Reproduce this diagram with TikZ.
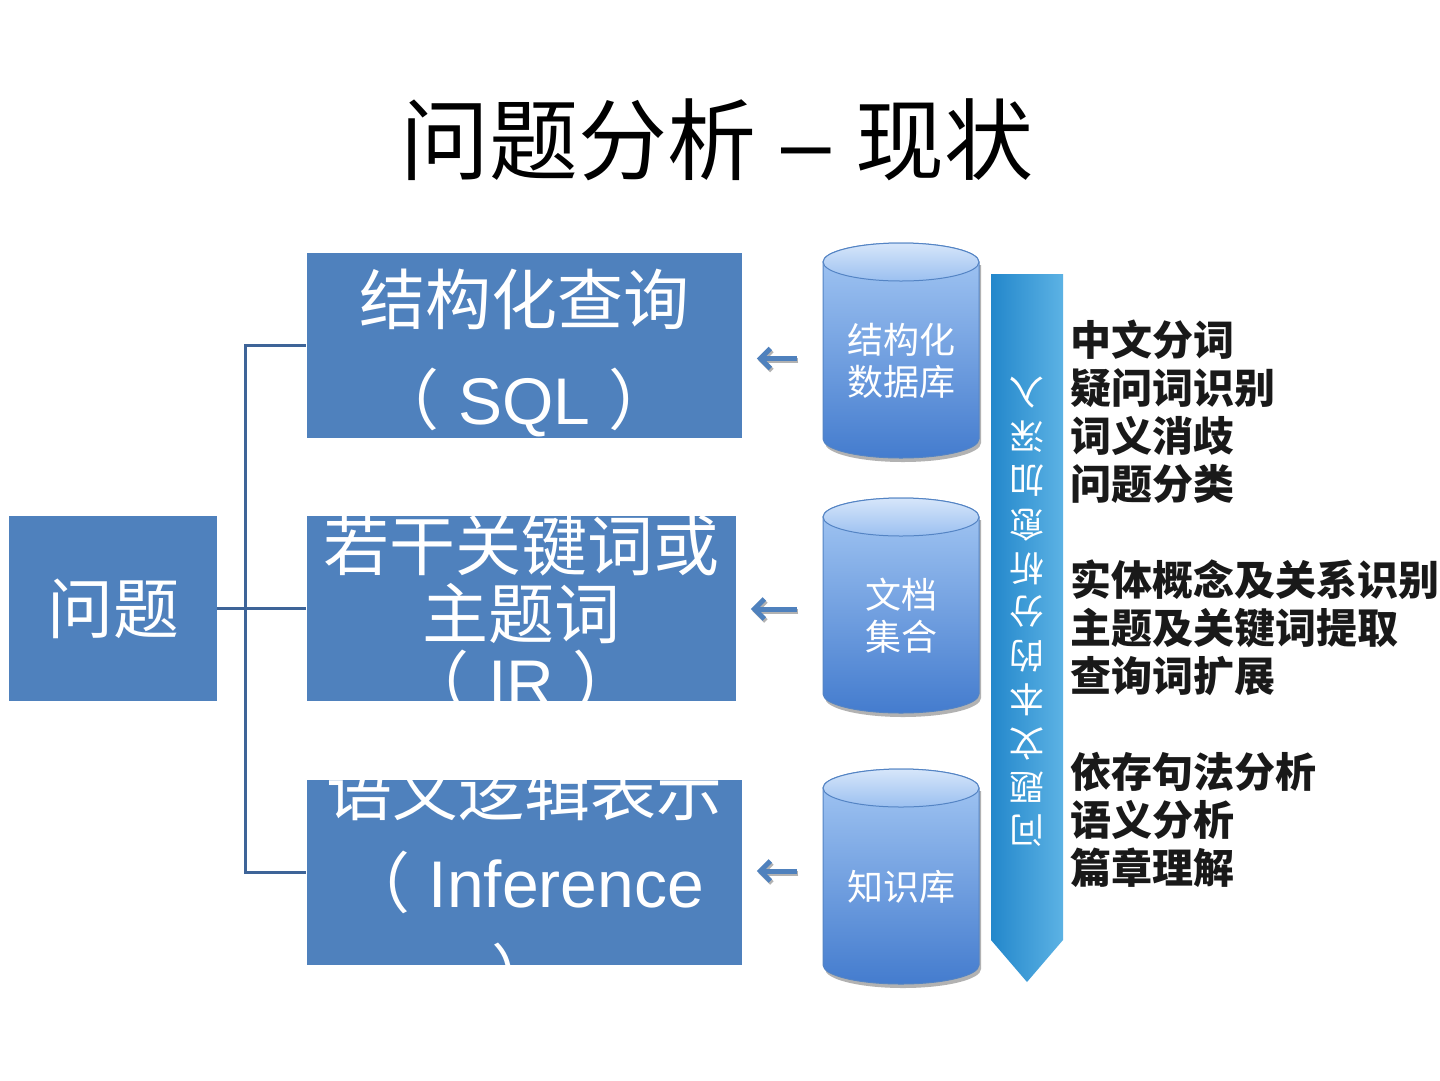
\documentclass[tikz,border=0pt]{standalone}
\usepackage{fontspec}
\setmainfont{Liberation Sans}
\newfontfamily\cjk{Noto Sans CJK SC}
\usepackage{tikz}
\usetikzlibrary{arrows.meta, positioning, calc}
\definecolor{qblue}{RGB}{79,129,189}
\definecolor{qdark}{RGB}{62,100,152}
\definecolor{qcyltop}{RGB}{165,200,244}
\definecolor{qcylbot}{RGB}{68,124,206}
\definecolor{qcyledge}{RGB}{84,132,196}
\definecolor{qarrl}{RGB}{35,135,203}
\definecolor{qarrr}{RGB}{92,178,228}

\begin{document}
\begin{tikzpicture}[
  x=1pt,y=-1pt,
  blk/.style={fill=qblue,inner sep=0pt,minimum height=185pt},
  blktxt/.style={text=white,align=center,inner sep=0pt,
                 font=\fontsize{66}{#1}\selectfont},
  dbbox/.style={inner sep=0pt,minimum width=156pt,minimum height=215pt},
  dbtxt/.style={text=white,align=center,inner sep=0pt,
                font=\cjk\fontsize{36}{42}\selectfont},
  cylbody/.style={top color=qcyltop,bottom color=qcylbot,draw=qcyledge,line width=1pt},
  cyltop/.style={top color=qcyltop!45!white,bottom color=qcyltop!90!qcylbot,draw=qcyledge,line width=1pt},
  tree/.style={draw=qdark,line width=3pt},
  arr/.style={-{Straight Barb[length=10pt,width=20pt]},line width=5pt,color=qblue,
              shorten <=26pt,shorten >=15pt}
]
  \fill[white] (0,0) rectangle (1440,1080);
  \useasboundingbox (0,0) rectangle (1440,1080);

  \node[font=\fontsize{89}{100}\selectfont] (title) at (717,140)
    {{\cjk 问题分析} – {\cjk 现状}};

  % left side
  \node[blk,minimum width=208pt,anchor=north west,text=white,
        font=\cjk\fontsize{66}{80}\selectfont] (q) at (9,516) {问题};
  \node[blk,minimum width=429pt,right=89pt of q] (box2) {};
  \node[blk,minimum width=435pt,above=78pt of box2.north west,anchor=south west] (box1) {};
  \node[blk,minimum width=435pt,below=78pt of box2.south west,anchor=north west] (box3) {};

  \foreach \b/\dy/\s/\t in {
      box1/8/100/{{\cjk 结构化查询}\\{\cjk （} SQL {\cjk ）}},
      box2/5/68/{{\cjk 若干关键词或}\\{\cjk 主题词}\\{\cjk （} IR {\cjk ）}},
      box3/11/92/{{\cjk 语义逻辑表示}\\{\cjk （} Inference\\{\cjk ）}}}{
    \begin{scope}
      \clip (\b.north west) rectangle (\b.south east);
      \node[blktxt=\s] at ($(\b.center)+(0,\dy)$) {\t};
    \end{scope}
  }

  \coordinate (fork) at ($(q.east)+(28,0)$);
  \foreach \b in {box1,box2,box3}
    \draw[tree] (q.east) -- (fork) |- (\b.west);

  % databases
  \foreach \n/\yt/\t in {db1/243/{结构化\\数据库},db2/498/{文档\\集合},db3/769/{知识库}}{
    \fill[black!30] (825,\yt+22) -- (825,\yt+200)
      arc[start angle=180,end angle=0,x radius=78,y radius=19] -- (981,\yt+22) -- cycle;
    \shade[cylbody] (823,\yt+19) -- (823,\yt+196)
      arc[start angle=180,end angle=0,x radius=78,y radius=19] -- (979,\yt+19)
      arc[start angle=0,end angle=-180,x radius=78,y radius=19] -- cycle;
    \shade[cyltop] (901,\yt+19) ellipse[x radius=78,y radius=19];
    \node[dbbox] (\n) at (901,\yt+107.5) {};
    \node[dbtxt] at (901,\yt+118) {\t};
  }

  \foreach \a/\b/\d in {db1/box1/-8,db2/box2/-3.5,db3/box3/5.5}{
    \coordinate (t\a) at ([yshift=\d pt]\a.west);
    \draw[arr,color=black!30,transform canvas={xshift=1.5pt,yshift=-2pt}]
      (t\a) -- (t\a -| \b.east);
    \draw[arr] (t\a) -- (t\a -| \b.east);
  }

  % depth arrow
  \shade[left color=qarrl,right color=qarrr]
    (991,274) -- (1063,274) -- (1063,940) -- (1027,982) -- (991,940) -- cycle;
  \node[rotate=180,text=white,align=center,inner sep=0pt,
        font=\cjk\fontsize{35}{43.8}\selectfont] (depth) at (1027,612)
    {问\\题\\文\\本\\的\\分\\析\\愈\\加\\深\\入};

  \node[anchor=west,align=left,inner sep=0pt,text=black!90,
        font=\cjk\bfseries\fontsize{41}{48}\selectfont] (steps) at (1070,604)
    {中文分词\\疑问词识别\\词义消歧\\问题分类\\[48pt]
     实体概念及关系识别\\主题及关键词提取\\查询词扩展\\[48pt]
     依存句法分析\\语义分析\\篇章理解};
\end{tikzpicture}
\end{document}
